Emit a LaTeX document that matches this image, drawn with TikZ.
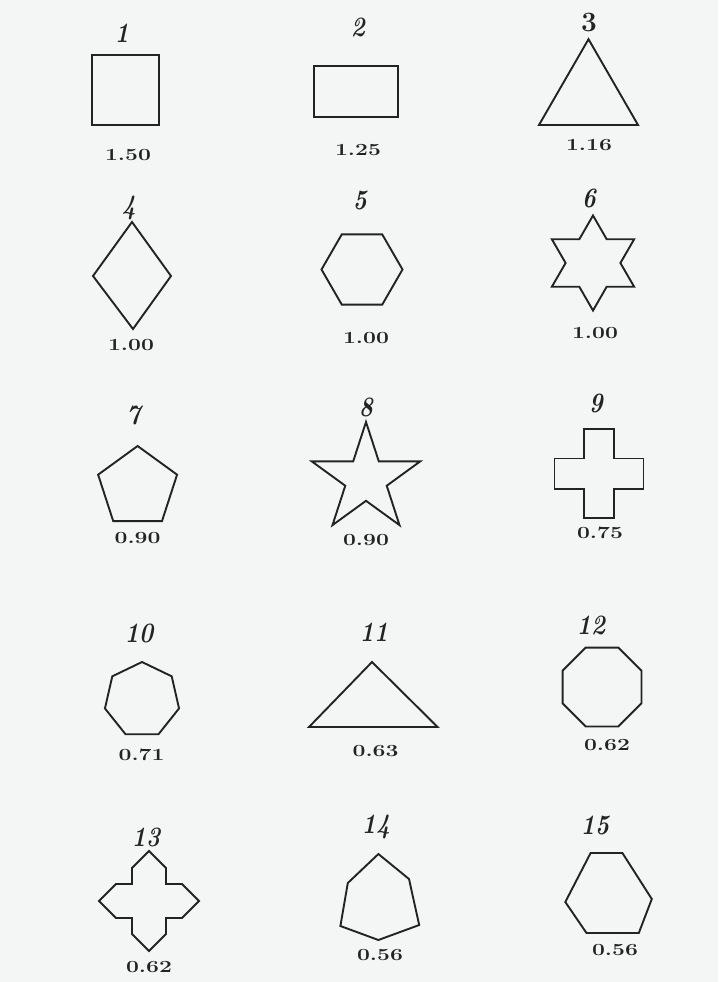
\documentclass[tikz,border=0pt]{standalone}
\usepackage{tikz}
\usepackage{graphicx}
\definecolor{paper}{RGB}{244,246,246}
\definecolor{ink}{RGB}{35,35,35}
\newcommand{\ratiotext}[1]{\scalebox{1.35}[1]{#1}}
\newcommand{\figno}[1]{\scalebox{0.85}[1]{#1}}
\begin{document}
\begin{tikzpicture}[x=1pt,y=-1pt,
    figline/.style={draw=ink,line width=1.9pt,line join=miter},
    numlbl/.style={font=\fontsize{28}{28}\selectfont\bfseries\itshape,text=ink},
    vallbl/.style={font=\fontsize{17}{17}\selectfont\bfseries,text=ink}]
  \fill[paper] (0,0) rectangle (718,982);
  \useasboundingbox (0,0) rectangle (718,982);
  % figure numbers
  \foreach \x/\y/\n in {122/33/1,358/27/2,129/208/4,360/200/5,589/198/6,
      133.5/415/7,366/407/8,596/403/9,139/633/10,374/632/11,591/625/12,
      146/837/13,376/827/14,595/825/15}
    \node[numlbl] (num\n) at (\x,\y) {\figno{\n}};
  \node[numlbl,font=\fontsize{28}{28}\selectfont\bfseries] (num3) at (589,22) {3};
  % ratios
  \foreach \x/\y/\v/\n in {128/155/1.50/1,358/150/1.25/2,589/145/1.16/3,
      131/345/1.00/4,366/338/1.00/5,595/333/1.00/6,
      137.6/538/0.90/7,366/540/0.90/8,600/533/0.75/9,
      141.6/755/0.71/10,375.6/751/0.63/11,607/745/0.62/12,
      149/967/0.62/13,380/955/0.56/14,615/950/0.56/15}
    \node[vallbl] (val\n) at (\x,\y) {\ratiotext{\v}};
  % row 1
  \draw[figline] (92,55) rectangle (159,125);
  \draw[figline] (314,66) rectangle (398,117);
  \draw[figline] (588.5,96.4) +(270:57.2) -- +(30:57.2) -- +(150:57.2) -- cycle;
  % row 2
  \draw[figline] (132,222) -- (171,276) -- (133,329) -- (93,276) -- cycle;
  \draw[figline] (362,269.5) +(0:40.5) -- +(60:40.5) -- +(120:40.5)
    -- +(180:40.5) -- +(240:40.5) -- +(300:40.5) -- cycle;
  \draw[figline] (593,263) +(270:47.5) -- +(300:27.4) -- +(330:47.5)
    -- +(0:27.4) -- +(30:47.5) -- +(60:27.4) -- +(90:47.5) -- +(120:27.4)
    -- +(150:47.5) -- +(180:27.4) -- +(210:47.5) -- +(240:27.4) -- cycle;
  % row 3
  \draw[figline] (137.6,487.5) +(270:41.5) -- +(342:41.5) -- +(54:41.5)
    -- +(126:41.5) -- +(198:41.5) -- cycle;
  \draw[figline] (366,479) +(270:57) -- +(306:21.8) -- +(342:57)
    -- +(18:21.8) -- +(54:57) -- +(90:21.8) -- +(126:57) -- +(162:21.8)
    -- +(198:57) -- +(234:21.8) -- cycle;
  \draw[figline] (584,429) -- (614,429) -- (614,458.5) -- (643.5,458.5)
    -- (643.5,489) -- (614,489) -- (614,518) -- (584,518) -- (584,489)
    -- (554.5,489) -- (554.5,458.5) -- (584,458.5) -- cycle;
  % row 4
  \draw[figline] (142,700) +(270:38) -- +(321.43:38) -- +(12.86:38)
    -- +(64.29:38) -- +(115.71:38) -- +(167.14:38) -- +(218.57:38) -- cycle;
  \draw[figline] (372,662) -- (437.6,727) -- (309,727) -- cycle;
  \draw[figline] (602,687) +(22.5:42.7) -- +(67.5:42.7) -- +(112.5:42.7)
    -- +(157.5:42.7) -- +(202.5:42.7) -- +(247.5:42.7) -- +(292.5:42.7)
    -- +(337.5:42.7) -- cycle;
  % row 5
  \draw[figline] (149,901) +(0,-50) -- +(17,-33) -- +(17,-17) -- +(33,-17)
    -- +(50,0) -- +(33,17) -- +(17,17) -- +(17,33) -- +(0,50) -- +(-17,33)
    -- +(-17,17) -- +(-33,17) -- +(-50,0) -- +(-33,-17) -- +(-17,-17)
    -- +(-17,-33) -- cycle;
  \draw[figline] (378.4,854) -- (409,879) -- (419.2,925) -- (378.4,940)
    -- (340.4,926) -- (347.8,883) -- cycle;
  \draw[figline] (590.6,853) -- (622.4,853) -- (651.8,899) -- (638.8,933)
    -- (586.5,933) -- (565.3,902) -- cycle;
\end{tikzpicture}
\end{document}
